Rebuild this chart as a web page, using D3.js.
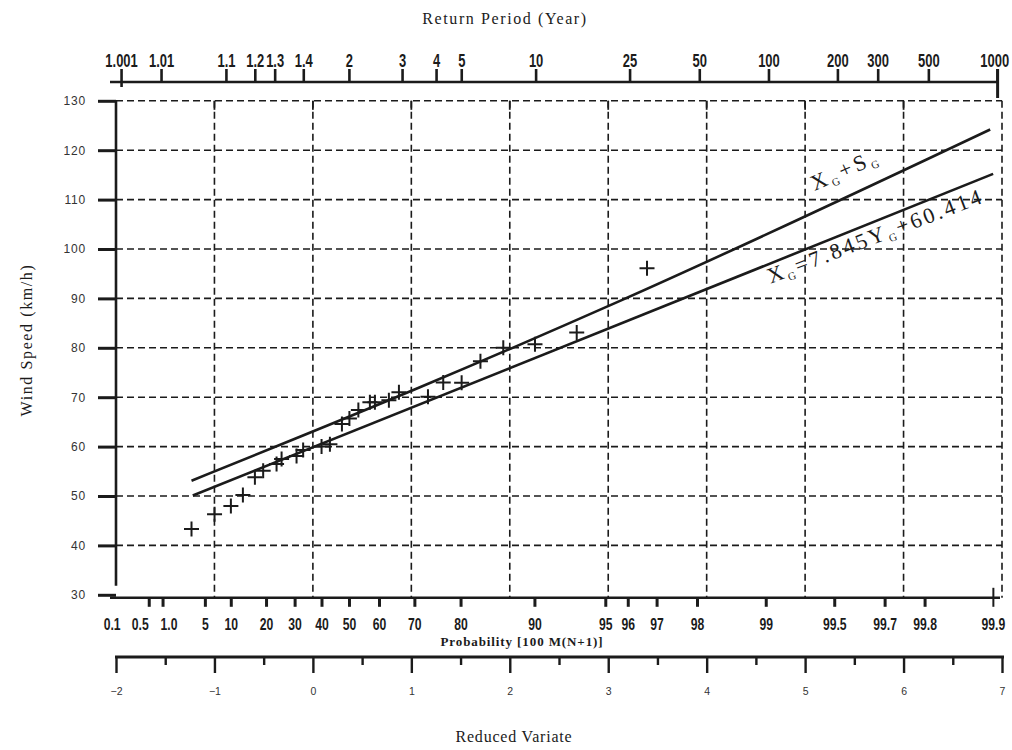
<!DOCTYPE html>
<html><head><meta charset="utf-8">
<script src="https://cdn.jsdelivr.net/npm/d3@7"></script>
<style>body{margin:0;background:#fff}</style>
</head><body><svg id="c" width="1012" height="750"></svg>
<script>
// ---------- data ----------
const windTicks = [30, 40, 50, 60, 70, 80, 90, 100, 110, 120, 130];
const reducedTicks = [-2, -1, 0, 1, 2, 3, 4, 5, 6, 7];
const reducedMinorTicks = [-1.5, -0.5, 0.5, 1.5, 2.5, 3.5, 4.5, 5.5, 6.5];
const returnPeriodTicks = ["1.001", "1.01", "1.1", "1.2", "1.3", "1.4", "2", "3", "4", "5", "10", "25", "50", "100", "200", "300", "500", "1000"];
// where each return-period tick sits in the picture (years); the "1.4" tick is drawn near 1.5
const returnPeriodTickAt = [1.001, 1.01, 1.1, 1.2, 1.3, 1.5, 2, 3, 4, 5, 10, 25, 50, 100, 200, 300, 500, 1000];
const probabilityTicks = ["0.1", "0.5", "1.0", "5", "10", "20", "30", "40", "50", "60", "70", "80", "90", "95", "96", "97", "98", "99", "99.5", "99.7", "99.8", "99.9"];

const obsReducedVariate = [-1.233, -0.999, -0.833, -0.711, -0.589, -0.505, -0.369, -0.318, -0.166, -0.099, 0.088, 0.173, 0.295, 0.371, 0.462, 0.579, 0.63, 0.772, 0.874, 1.169, 1.324, 1.511, 1.702, 1.934, 2.256, 2.68, 3.394];
const obsWindSpeed = [43.3, 46.3, 48.0, 50.2, 53.8, 55.1, 56.5, 57.5, 58.1, 59.3, 60.0, 60.5, 64.6, 65.7, 67.4, 69.0, 69.0, 69.4, 71.0, 70.1, 73.0, 72.9, 77.3, 80.0, 80.7, 83.1, 96.1];

const fitReducedVariate = [-1.22, 6.91];
const fitWindSpeed = [50.1, 115.2];
const upperReducedVariate = [-1.233, 1.087, 3.12, 6.88];
const upperWindSpeed = [53.1, 72.0, 89.5, 124.2];

// ---------- helpers ----------
const returnToY = T => -Math.log(-Math.log(1 - 1 / T));
const probToY = P => -Math.log(-Math.log(P / 100));

const svg = d3.select("#c");
const ink = "#1b1b1b";
const sans = "'Liberation Sans',Arial,sans-serif";
const serif = "'Liberation Serif','Times New Roman',serif";

const x = d3.scaleLinear().domain([-2, 7]).range([116, 1002]);
const xTop = d3.scaleLinear().domain([-2, 7]).range([114.4, 1006.3]);
const y = d3.scaleLinear().domain([30, 130]).range([594.8, 100.8]);
const probAxisY = y(30) + 3;

// ---------- grid ----------
const grid = svg.append("g").attr("stroke", ink).attr("stroke-width", 1.6).attr("stroke-dasharray", "7,4");
grid.selectAll("line.h").data(windTicks.filter(v => v > 30)).join("line").attr("class", "h")
  .attr("x1", x(-2)).attr("x2", x(7)).attr("y1", d => y(d)).attr("y2", d => y(d));
grid.selectAll("line.v").data(reducedTicks.filter(v => v > -2)).join("line").attr("class", "v")
  .attr("x1", d => x(d)).attr("x2", d => x(d)).attr("y1", y(130)).attr("y2", probAxisY);
svg.append("g").selectAll("line").data(reducedTicks.filter(v => v > -2 && v < 7)).join("line")
  .attr("x1", d => x(d)).attr("x2", d => x(d)).attr("y1", y(130)).attr("y2", y(130) + 9)
  .attr("stroke", ink).attr("stroke-width", 1.8);

// ---------- left axis ----------
svg.append("line").attr("x1", x(-2)).attr("x2", x(-2)).attr("y1", y(130)).attr("y2", y(30) - 9)
  .attr("stroke", ink).attr("stroke-width", 2.6);
const yAx = svg.append("g").attr("transform", `translate(${x(-2)},0)`)
  .call(d3.axisLeft(y).tickValues(windTicks).tickSize(18).tickPadding(12));
yAx.select(".domain").remove();
yAx.selectAll(".tick line").attr("stroke", ink).attr("stroke-width", 3);
yAx.selectAll(".tick text").attr("font-family", sans).attr("font-size", 12).attr("letter-spacing", "0.8px").attr("fill", "#333");

// ---------- top axis (return period) ----------
const topY = 82;
svg.append("line").attr("x1", 110).attr("x2", xTop(returnToY(1000))).attr("y1", topY).attr("y2", topY)
  .attr("stroke", ink).attr("stroke-width", 2.6);
const tAx = svg.append("g").attr("transform", `translate(0,${topY})`)
  .call(d3.axisTop(xTop).tickValues(returnPeriodTickAt.map(returnToY))
    .tickFormat((d, i) => returnPeriodTicks[i]).tickSize(13).tickPadding(2));
tAx.select(".domain").remove();
tAx.selectAll(".tick line").attr("stroke", ink).attr("stroke-width", 2.6);
tAx.selectAll(".tick text").attr("font-family", sans).attr("font-weight", "bold").attr("font-size", 18)
  .attr("fill", ink).attr("transform", "scale(0.72,1)");
tAx.selectAll(".tick").filter((d, i) => i === returnPeriodTicks.length - 1).select("text").attr("dx", -4);
tAx.selectAll(".tick").filter((d, i) => i === 0).append("line").attr("y1", 0).attr("y2", 5).attr("stroke", ink).attr("stroke-width", 2.6);
tAx.selectAll(".tick").filter((d, i) => i === returnPeriodTicks.length - 1).append("line").attr("y1", -13).attr("y2", 16).attr("stroke", ink).attr("stroke-width", 3);

// ---------- probability axis ----------
svg.append("line").attr("x1", 110).attr("x2", x(7) - 2).attr("y1", probAxisY).attr("y2", probAxisY)
  .attr("stroke", ink).attr("stroke-width", 2.4);
const pAx = svg.append("g").attr("transform", `translate(0,${probAxisY})`)
  .call(d3.axisBottom(x).tickValues(probabilityTicks.map(p => probToY(+p)))
    .tickFormat((d, i) => probabilityTicks[i]).tickSize(9).tickPadding(12));
pAx.select(".domain").remove();
pAx.selectAll(".tick line").attr("stroke", ink).attr("stroke-width", 3);
pAx.selectAll(".tick").filter((d, i) => i === 0).select("line").remove();
pAx.selectAll(".tick").filter((d, i) => i === probabilityTicks.length - 1).select("line").attr("y1", -10).attr("y2", 9).attr("stroke-width", 2);
const labelNudge = [-11, -9, 6];
pAx.selectAll(".tick text").attr("font-family", sans).attr("font-weight", "bold").attr("font-size", 16).attr("fill", ink)
  .attr("transform", "scale(0.76,1)").attr("dx", (d, i) => (labelNudge[i] || 0) / 0.76);

svg.append("text").attr("x", 522).attr("y", 646).attr("text-anchor", "middle")
  .attr("font-family", serif).attr("font-weight", "bold").attr("font-size", 13).attr("letter-spacing", "0.9px").attr("fill", ink)
  .text("Probability [100 M(N+1)]");

// ---------- reduced variate axis ----------
const rvY = 657;
svg.append("line").attr("x1", x(-2) - 1).attr("x2", x(7) + 2).attr("y1", rvY).attr("y2", rvY)
  .attr("stroke", ink).attr("stroke-width", 3);
const rAx = svg.append("g").attr("transform", `translate(0,${rvY})`)
  .call(d3.axisBottom(x).tickValues(reducedTicks).tickSize(16).tickPadding(15));
rAx.select(".domain").remove();
rAx.selectAll(".tick line").attr("stroke", ink).attr("stroke-width", 2.4);
rAx.selectAll(".tick text").attr("font-family", sans).attr("font-size", 10.5).attr("fill", "#333");
const rMin = svg.append("g").attr("transform", `translate(0,${rvY})`)
  .call(d3.axisBottom(x).tickValues(reducedMinorTicks).tickSize(8).tickFormat(""));
rMin.select(".domain").remove();
rMin.selectAll(".tick line").attr("stroke", ink).attr("stroke-width", 2.4);

// ---------- lines ----------
const lineGen = d3.line().x(d => x(d[0])).y(d => y(d[1]));
const fitPts = fitReducedVariate.map((r, i) => [r, fitWindSpeed[i]]);
const upPts = upperReducedVariate.map((r, i) => [r, upperWindSpeed[i]]);
svg.append("path").attr("d", lineGen(fitPts)).attr("fill", "none").attr("stroke", ink).attr("stroke-width", 2.6);
svg.append("path").attr("d", lineGen.curve(d3.curveMonotoneX)(upPts)).attr("fill", "none").attr("stroke", ink).attr("stroke-width", 2.6);

// ---------- observations ----------
svg.append("g").selectAll("path").data(obsReducedVariate.map((r, i) => [r, obsWindSpeed[i]])).join("path")
  .attr("transform", d => `translate(${x(d[0])},${y(d[1])})`)
  .attr("d", "M-7.5,0H7.5M0,-7.5V7.5").attr("stroke", ink).attr("stroke-width", 2).attr("fill", "none");

// ---------- line labels ----------
function addLabel(pts, at, off, parts, spacing) {
  const n = pts.length;
  const ang = Math.atan2(y(pts[n - 1][1]) - y(pts[n - 2][1]), x(pts[n - 1][0]) - x(pts[n - 2][0])) * 180 / Math.PI;
  let v;
  for (let i = 0; i < n - 1; i++) {
    if (at >= pts[i][0] && at <= pts[i + 1][0]) v = pts[i][1] + (pts[i + 1][1] - pts[i][1]) * (at - pts[i][0]) / (pts[i + 1][0] - pts[i][0]);
  }
  const t = svg.append("text").attr("transform", `translate(${x(at)},${y(v)}) rotate(${ang + 1}) translate(0,${off})`)
    .attr("font-family", serif).attr("font-size", 22).attr("fill", ink).attr("letter-spacing", spacing);
  parts.forEach(p => {
    t.append("tspan").attr("font-size", p.sub ? 11 : 22).attr("dy", p.sub ? 4 : (p.after ? -4 : 0)).text(p.t);
  });
}
addLabel(fitPts, 4.58, 19, [{t: "X"}, {t: "G", sub: true}, {t: "=7.845Y", after: true}, {t: "G", sub: true}, {t: "+60.414", after: true}], "2.8px");
addLabel(upPts, 5.17, -18, [{t: "X"}, {t: "G", sub: true}, {t: "+S", after: true}, {t: "G", sub: true}], "3.4px");

// ---------- titles ----------
svg.append("text").attr("x", 505).attr("y", 24).attr("text-anchor", "middle")
  .attr("font-family", serif).attr("font-size", 16).attr("letter-spacing", "1.6px").attr("fill", ink).text("Return Period (Year)");
svg.append("text").attr("transform", "translate(32,340) rotate(-90)").attr("text-anchor", "middle")
  .attr("font-family", serif).attr("font-size", 16).attr("letter-spacing", "1.6px").attr("fill", ink).text("Wind Speed (km/h)");
svg.append("text").attr("x", 514).attr("y", 742).attr("text-anchor", "middle")
  .attr("font-family", serif).attr("font-size", 16).attr("letter-spacing", "0.8px").attr("fill", ink).text("Reduced Variate");
</script></body></html>
